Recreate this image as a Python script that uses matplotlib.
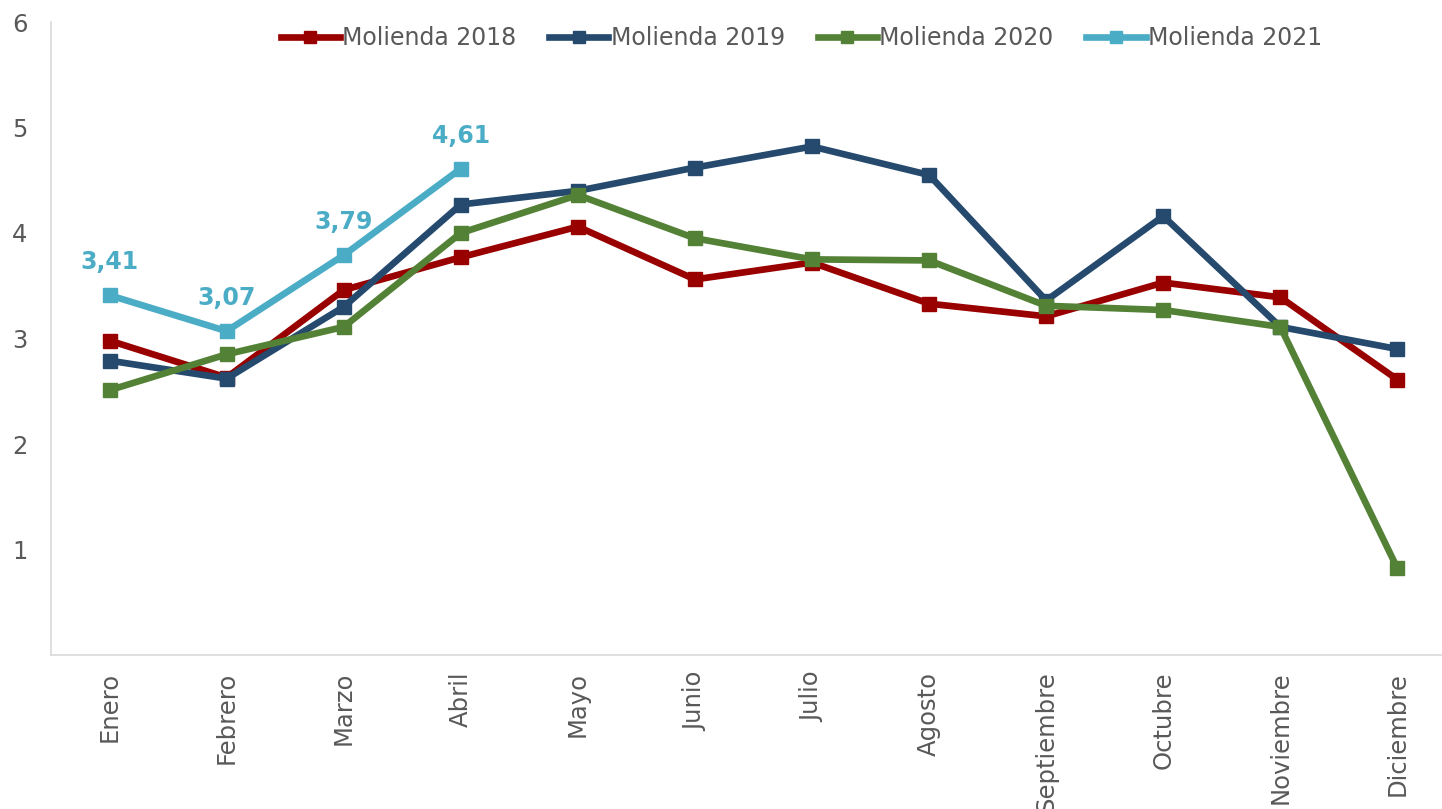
import matplotlib.pyplot as plt

meses = ['Enero', 'Febrero', 'Marzo', 'Abril', 'Mayo', 'Junio', 'Julio',
         'Agosto', 'Septiembre', 'Octubre', 'Noviembre', 'Diciembre']

molienda_2018 = [2.98, 2.63, 3.46, 3.77, 4.06, 3.56, 3.72, 3.33, 3.21, 3.53, 3.39, 2.61]
molienda_2019 = [2.79, 2.62, 3.30, 4.27, 4.40, 4.62, 4.82, 4.55, 3.36, 4.16, 3.11, 2.90]
molienda_2020 = [2.51, 2.85, 3.11, 4.00, 4.36, 3.95, 3.75, 3.74, 3.31, 3.27, 3.11, 0.82]
molienda_2021 = [3.41, 3.07, 3.79, 4.61]

series = [
    ('Molienda 2018', molienda_2018, '#990000'),
    ('Molienda 2019', molienda_2019, '#254A6E'),
    ('Molienda 2020', molienda_2020, '#538135'),
    ('Molienda 2021', molienda_2021, '#4BACC6'),
]

fig = plt.figure(figsize=(14.42, 8.09), dpi=100)
ax = fig.add_axes([51 / 1442, 154 / 809, 1405 / 1442, 633 / 809])

x = list(range(len(meses)))
for nombre, valores, color in series:
    ax.plot(x[:len(valores)], valores, color=color, lw=4.8, marker='s',
            markersize=10, label=nombre, solid_joinstyle='round')

for i, v in enumerate(molienda_2021):
    ax.annotate('{:.2f}'.format(v).replace('.', ','), (i, v),
                xytext=(0, 15), textcoords='offset points', ha='center',
                va='bottom', color='#4BACC6', fontsize=17, fontweight='bold')

ax.set_xlim(-0.5, 11.5)
ax.set_ylim(0, 6)
ax.set_yticks([1, 2, 3, 4, 5, 6])
ax.set_xticks(x)
ax.set_xticklabels(meses, rotation=90)
ax.tick_params(length=0, labelsize=17.5, colors='#595959')
ax.tick_params(axis='y', pad=17)
ax.tick_params(axis='x', pad=12)
for s in ['top', 'right']:
    ax.spines[s].set_visible(False)
for s in ['left', 'bottom']:
    ax.spines[s].set_color('#D9D9D9')
    ax.spines[s].set_linewidth(1.2)

leg = ax.legend(loc='center', bbox_to_anchor=(0.534, 0.975), ncol=4,
                frameon=False, fontsize=17, handlelength=2.5,
                handletextpad=0.1, columnspacing=1.4, markerscale=0.9)
for t in leg.get_texts():
    t.set_color('#595959')

fig.savefig('out.png', dpi=100)
